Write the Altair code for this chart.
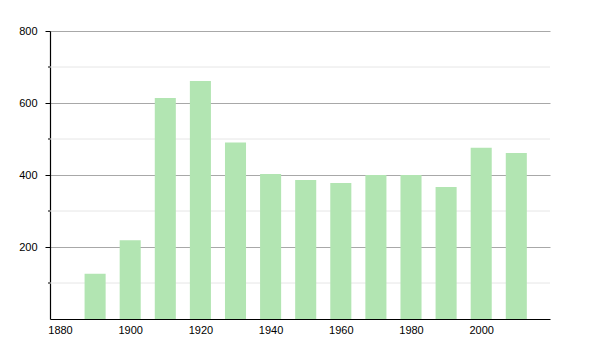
import altair as alt
import pandas as pd

years = [1890, 1900, 1910, 1920, 1930, 1940, 1950, 1960, 1970, 1980, 1990, 2000, 2010]
values = [126, 219, 614, 661, 490, 403, 386, 378, 400, 400, 367, 476, 461]
x_ticks = [1880, 1900, 1920, 1940, 1960, 1980, 2000]
major_y = [200, 400, 600, 800]
minor_y = [100, 300, 500, 700]

df = pd.DataFrame({"year": years, "value": values})
df_minor = pd.DataFrame({"value": minor_y})

xscale = alt.Scale(domain=[1877.15, 2019.6], nice=False, zero=False)
yscale = alt.Scale(domain=[0, 800], nice=False)

yaxis = alt.Axis(
    values=major_y,
    grid=True,
    gridColor="#a8a8a8",
    gridWidth=1,
    tickSize=5,
    tickColor="#000000",
    domainColor="#000000",
    domainWidth=1.2,
    labelFont="Liberation Sans",
    labelFontSize=11,
    labelColor="#000000",
    labelPadding=8,
    labelFlush=False,
)

minor_grid = alt.Chart(df_minor).mark_rule(color="#e6e6e6", strokeWidth=1).encode(
    y=alt.Y("value:Q", scale=yscale, axis=yaxis, title=None)
)
minor_ticks = alt.Chart(df_minor).mark_rule(color="#000000", strokeWidth=1).encode(
    y=alt.Y("value:Q", scale=yscale, axis=yaxis, title=None),
    x=alt.value(-2),
    x2=alt.value(0),
)

bars = alt.Chart(df).transform_calculate(
    x0="datum.year - 3", x1="datum.year + 3"
).mark_bar(color="#b2e5b2", opacity=1).encode(
    x=alt.X(
        "x0:Q",
        scale=xscale,
        title=None,
        axis=alt.Axis(
            values=x_ticks,
            format="d",
            grid=False,
            ticks=False,
            domainColor="#000000",
            domainWidth=1.2,
            labelFont="Liberation Sans",
            labelFontSize=11,
            labelColor="#000000",
            labelPadding=5,
            labelFlush=False,
        ),
    ),
    x2="x1:Q",
    y=alt.Y("value:Q", scale=yscale, title=None, axis=yaxis),
    y2=alt.datum(0),
)

chart = alt.layer(minor_grid, bars, minor_ticks).properties(
    width=500,
    height=288,
    autosize=alt.AutoSizeParams(type="none"),
    padding={"left": 50, "top": 31, "right": 50, "bottom": 31},
    background="#ffffff",
).configure_view(stroke=None)

chart.save("out.html", embed_options={"renderer": "svg", "actions": False})
